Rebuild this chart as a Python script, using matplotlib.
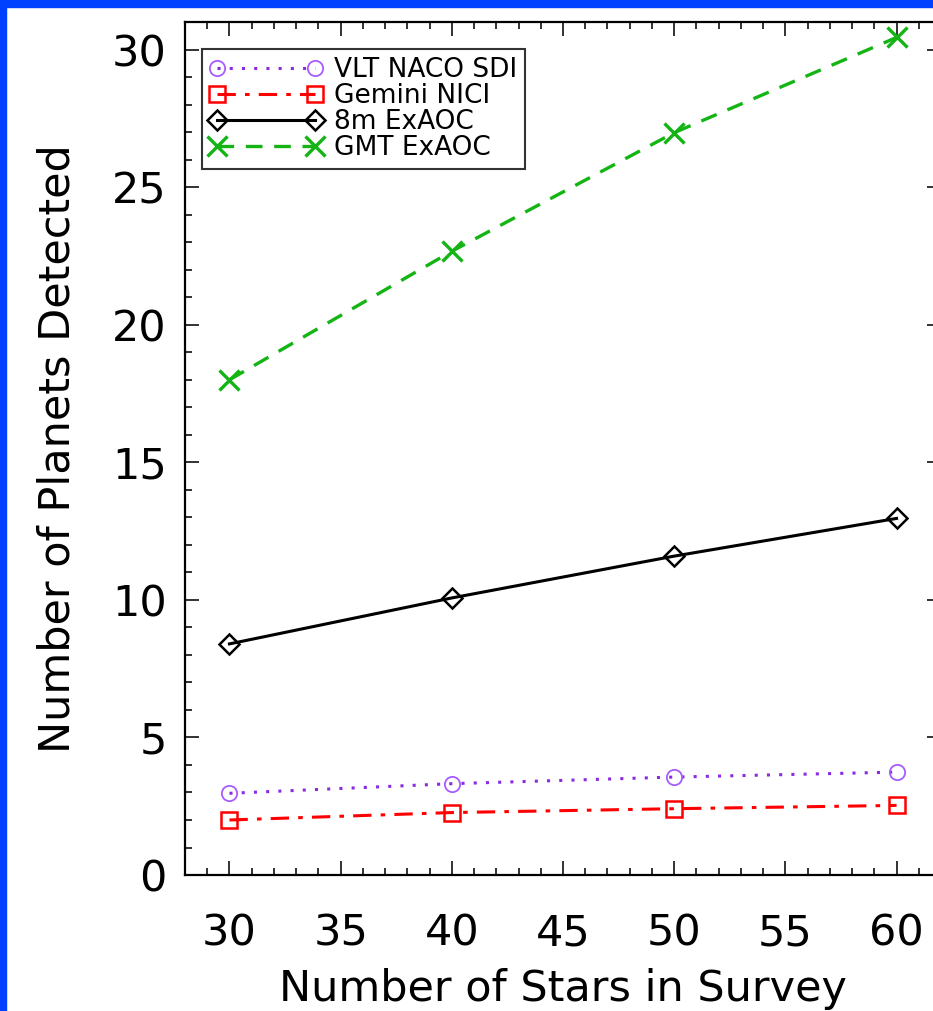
import matplotlib.pyplot as plt
from matplotlib.patches import Rectangle
from matplotlib.ticker import MultipleLocator

# survey size (number of stars) and expected planet yields per instrument
n_stars = [30, 40, 50, 60]
vlt_naco = [2.97, 3.32, 3.56, 3.74]
gemini_nici = [2.00, 2.27, 2.41, 2.53]
exaoc_8m = [8.40, 10.07, 11.59, 12.96]
gmt_exaoc = [18.0, 22.67, 26.98, 30.44]

labels = ["VLT NACO SDI", "Gemini NICI", "8m ExAOC", "GMT ExAOC"]

plt.rcParams["font.family"] = "DejaVu Sans"

fig = plt.figure(figsize=(9.33, 10.11), dpi=100)
ax = fig.add_axes([0.1983, 0.1345, 0.8103, 0.8437])

ax.plot(n_stars, vlt_naco, color="#8a2be2", ls=(0, (1, 3)), lw=2.2,
        marker="o", ms=11, mfc="none", mec="#a65cff", mew=1.3, label=labels[0])
ax.plot(n_stars, gemini_nici, color="#ff0000", ls=(0, (6, 3, 1.5, 3)), lw=2.2,
        marker="s", ms=12, mfc="none", mew=1.8, label=labels[1])
ax.plot(n_stars, exaoc_8m, color="black", ls="-", lw=2.2,
        marker="D", ms=10, mfc="none", mew=1.8, label=labels[2])
ax.plot(n_stars, gmt_exaoc, color="#14b414", ls=(0, (5, 3.5)), lw=2.4,
        marker="x", ms=15, mew=2.4, label=labels[3])

ax.set_xlim(28, 62)
ax.set_ylim(0, 31)
ax.xaxis.set_major_locator(MultipleLocator(5))
ax.xaxis.set_minor_locator(MultipleLocator(1))
ax.yaxis.set_major_locator(MultipleLocator(5))
ax.yaxis.set_minor_locator(MultipleLocator(1))

ax.tick_params(which="both", direction="in", top=True, right=True,
               width=1.3, colors="#222222", labelcolor="black")
ax.tick_params(which="major", length=10, labelsize=31)
ax.tick_params(which="minor", length=5)
ax.tick_params(axis="x", which="major", pad=27)
ax.tick_params(axis="y", which="major", pad=13)
for sp in ax.spines.values():
    sp.set_linewidth(1.6)

ax.set_xlabel("Number of Stars in Survey", fontsize=31, labelpad=10)
ax.set_ylabel("Number of Planets Detected", fontsize=31, labelpad=24)

leg = ax.legend(loc="upper left", bbox_to_anchor=(0.022, 0.968), fontsize=19,
                handlelength=4.3, handletextpad=0.4, labelspacing=0.0,
                borderpad=0.3, borderaxespad=0, fancybox=False,
                edgecolor="#333333", framealpha=1, numpoints=2)
leg.get_frame().set_linewidth(1.5)

# blue frame strips on the left and top edges
fig.patches.append(Rectangle((0, 0), 6 / 933, 1, transform=fig.transFigure,
                             color="#0040ff", zorder=10))
fig.patches.append(Rectangle((0, 1 - 7 / 1011), 1, 7 / 1011,
                             transform=fig.transFigure, color="#0040ff", zorder=10))

fig.savefig("out.png", dpi=100)
